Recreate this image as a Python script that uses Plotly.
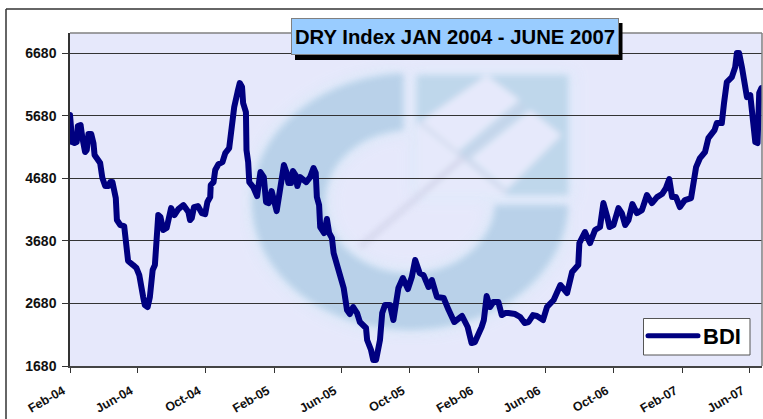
import base64
import pandas as pd
import plotly.graph_objects as go

series_name = "BDI"
title_text = "DRY Index JAN 2004 - JUNE 2007"
start_date = "2004-02-01"

days_since_start = [
    0, 4, 8, 12, 14, 19, 22, 27, 30, 33, 38, 42, 44, 51, 54, 58, 63, 69, 72, 76,
    79, 82, 84, 90, 97, 100, 104, 113, 119, 124, 127, 131, 134, 139, 143, 148, 152, 155, 158, 162,
    167, 173, 177, 181, 187, 194, 203, 212, 215, 218, 222, 229, 236, 242, 246, 251, 252, 257, 260, 266,
    273, 278, 285, 288, 291, 294, 300, 304, 308, 310, 315, 316, 319, 321, 328, 335, 341, 347, 351, 356,
    361, 366, 370, 374, 379, 383, 388, 391, 396, 399, 404, 407, 412, 418, 423, 430, 436, 440, 442, 446,
    448, 455, 460, 464, 469, 472, 478, 484, 490, 496, 501, 507, 514, 519, 530, 532, 539, 543, 548, 555,
    559, 564, 573, 579, 585, 588, 596, 605, 612, 618, 626, 633, 642, 648, 657, 669, 678, 688, 702, 712,
    719, 725, 737, 741, 746, 752, 758, 767, 773, 779, 785, 797, 806, 814, 821, 829, 836, 847, 854, 866,
    878, 890, 899, 910, 912, 922, 931, 940, 949, 955, 962, 966, 973, 982, 988, 994, 1000, 1007, 1015, 1024,
    1033, 1042, 1051, 1060, 1067, 1073, 1078, 1085, 1092, 1101, 1112, 1116, 1121, 1128, 1137, 1143, 1154, 1158, 1167, 1171,
    1176, 1185, 1191, 1194, 1198, 1203, 1209, 1212, 1218, 1227, 1231, 1234, 1238,
]
bdi_values = [
    5689, 5257, 5241, 5257, 5513, 5529, 5337, 5098, 5130, 5385, 5385, 5241, 5050, 4970, 4922, 4682, 4555, 4555, 4618, 4618,
    4491, 4363, 4012, 3932, 3916, 3692, 3357, 3293, 3245, 3133, 2894, 2782, 2654, 2622, 2782, 3213, 3293, 3852, 4091, 4060,
    3852, 3884, 4107, 4203, 4091, 4187, 4251, 4139, 4012, 4044, 4219, 4235, 4123, 4107, 4299, 4379, 4571, 4618, 4810, 4906,
    4938, 5082, 5161, 5401, 5481, 5816, 6056, 6200, 6136, 5880, 5736, 5130, 4938, 4618, 4539, 4395, 4778, 4698, 4299, 4283,
    4475, 4331, 4155, 4379, 4778, 4890, 4762, 4603, 4603, 4794, 4730, 4555, 4698, 4666, 4618, 4698, 4842, 4762, 4379, 4251,
    3900, 3804, 4028, 3804, 3724, 3485, 3293, 3133, 2926, 2574, 2510, 2622, 2526, 2383, 2287, 2095, 1936, 1776, 1776, 2095,
    2526, 2654, 2654, 2415, 2782, 2926, 3085, 2910, 3101, 3373, 3165, 3133, 2942, 3053, 2782, 2766, 2574, 2383, 2479, 2303,
    2047, 2063, 2303, 2415, 2798, 2622, 2702, 2702, 2494, 2526, 2526, 2510, 2463, 2367, 2383, 2494, 2479, 2415, 2622, 2734,
    2974, 2846, 3181, 3293, 3644, 3820, 3644, 3852, 3900, 4283, 4060, 3900, 3932, 4203, 4123, 3932, 4012, 4267, 4123, 4171,
    4411, 4283, 4379, 4427, 4523, 4666, 4379, 4379, 4219, 4331, 4363, 4571, 4858, 5002, 5098, 5321, 5449, 5561, 5561, 5880,
    6215, 6295, 6455, 6679, 6679, 6455, 6200, 5976, 6008, 5257, 5241, 6040, 6120,
]

dates = pd.Timestamp(start_date) + pd.to_timedelta(days_since_start, unit="D")

# Pixel geometry of the page
W, H = 763, 419
L, R, T, B = 70, 762, 33, 366
PW, PH = R - L, B - T


def px(x):
    return (x - L) / PW


def py(y):
    return 1 - (y - T) / PH


# Faded watermark logo behind the plot
ring = ("M35 440a475 385 0 1 0 950 0a475 385 0 1 0 -950 0Z "
        "M255 440a255 215 0 1 0 510 0a255 215 0 1 0 -510 0Z")
svg = f"""<svg xmlns="http://www.w3.org/2000/svg" width="1050" height="870" viewBox="0 0 1050 870">
<defs>
<filter id="b" x="-5%" y="-5%" width="110%" height="110%"><feGaussianBlur stdDeviation="9"/></filter>
<filter id="h" x="-10%" y="-10%" width="120%" height="120%"><feGaussianBlur stdDeviation="22"/></filter>
<clipPath id="c"><path d="M0 0H490V450H985V870H0Z"/></clipPath>
</defs>
<g filter="url(#h)">
<path clip-path="url(#c)" fill-rule="evenodd" fill="#dbe9f8" stroke="#dbe9f8" stroke-width="30" d="{ring}"/>
<rect x="515" y="45" width="490" height="390" fill="#dfeafa"/>
</g>
<g filter="url(#b)">
<path clip-path="url(#c)" fill-rule="evenodd" fill="#b6d0e8" d="{ring}"/>
<rect x="530" y="60" width="455" height="360" fill="#bcd6ea"/>
<path d="M740 60L840 135L650 295L540 200Z" fill="#e6eafb"/>
<path d="M870 165L965 240L800 405L690 310Z" fill="#e6eafb"/>
<path d="M530 200V420H800L530 200Z" fill="#e6eafb"/>
<path d="M665 312L360 575" stroke="#d2d4ea" stroke-width="16" fill="none"/>
<path d="M545 205L800 415" stroke="#d2d8ec" stroke-width="9" fill="none"/>
<path d="M850 150L665 312" stroke="#c9d2e8" stroke-width="10" fill="none"/>
</g>
</svg>"""
svg_uri = "data:image/svg+xml;base64," + base64.b64encode(svg.encode()).decode()

FONT = "Liberation Sans, Arial, sans-serif"

fig = go.Figure()
fig.add_trace(go.Scatter(
    x=dates, y=bdi_values, mode="lines", name=series_name,
    line=dict(color="#000080", width=6, shape="linear"),
))

fig.update_layout(
    width=W, height=H,
    margin=dict(l=L, r=W - R, t=T, b=H - B, pad=0, autoexpand=False),
    paper_bgcolor="#ffffff",
    plot_bgcolor="#e6e8fb",
    font=dict(family=FONT, color="#111111"),
    showlegend=True,
    legend=dict(
        x=px(643), y=py(315), xanchor="left", yanchor="top",
        bgcolor="rgba(0,0,0,0)", borderwidth=0,
        font=dict(family=FONT, size=22, color="#000000", weight="bold"),
        itemwidth=50, itemsizing="constant",
        indentation=0, tracegroupgap=0,
    ),
    images=[dict(
        source=svg_uri, xref="paper", yref="paper",
        x=px(240), y=py(55), sizex=350 / PW, sizey=290 / PH,
        xanchor="left", yanchor="top", sizing="stretch", layer="below", opacity=0.92,
    )],
    shapes=[
        # outer chart frame
        dict(type="line", xref="paper", yref="paper", x0=px(6), x1=px(763), y0=py(9), y1=py(9),
             line=dict(color="#333333", width=1.5)),
        dict(type="line", xref="paper", yref="paper", x0=px(6), x1=px(6), y0=py(9), y1=py(419),
             line=dict(color="#333333", width=1.5)),
        # plot frame top and right
        dict(type="line", xref="paper", yref="paper", x0=0, x1=1, y0=1, y1=1,
             line=dict(color="#808080", width=1.5)),
        dict(type="line", xref="paper", yref="paper", x0=1, x1=1, y0=0, y1=1,
             line=dict(color="#808080", width=1.5)),
        # title drop shadow
        dict(type="rect", xref="paper", yref="paper", x0=px(295), x1=px(622.5), y0=py(60), y1=py(23),
             fillcolor="#000000", line=dict(width=0), layer="above"),
        # legend box
        dict(type="rect", xref="paper", yref="paper", x0=px(643.5), x1=px(750), y0=py(355), y1=py(318.5),
             fillcolor="#ffffff", line=dict(color="#555555", width=1), layer="above"),
    ],
    annotations=[dict(
        text=f"<b>{title_text}</b>", xref="paper", yref="paper",
        x=px(454.5), y=py(37), xanchor="center", yanchor="middle", showarrow=False,
        width=326, height=35, align="center", valign="middle",
        bgcolor="#99ccff", bordercolor="#808080", borderwidth=1, borderpad=0,
        font=dict(family=FONT, size=20.3, color="#000000"),
    )],
    xaxis=dict(
        type="date", range=["2004-02-01", "2007-06-24"],
        tick0="2004-02-01", dtick="M4", tickformat="%b-%y", tickangle=-30,
        ticks="outside", ticklen=5, tickwidth=1, tickcolor="#333333",
        ticklabelstandoff=6, ticklabelshift=-7,
        showgrid=False, showline=True, linecolor="#444444", linewidth=1.5,
        tickfont=dict(family=FONT, size=12.5, color="#111111", weight="bold"),
    ),
    yaxis=dict(
        range=[1680, 7000], tick0=1680, dtick=1000,
        ticks="outside", ticklen=6, tickwidth=1, tickcolor="#333333",
        ticklabelstandoff=3,
        showgrid=True, gridcolor="#333333", gridwidth=1, zeroline=False,
        showline=True, linecolor="#333333", linewidth=1.5,
        tickformat="d",
        tickfont=dict(family=FONT, size=14, color="#111111", weight="bold"),
    ),
)

post = """
document.body.style.margin='0';
var s=document.createElement('style');
s.textContent='.js-line{stroke-linejoin:round !important;stroke-linecap:round !important;}';
document.head.appendChild(s);
"""
fig.write_html("out.html", post_script=post, config={"displayModeBar": False})
